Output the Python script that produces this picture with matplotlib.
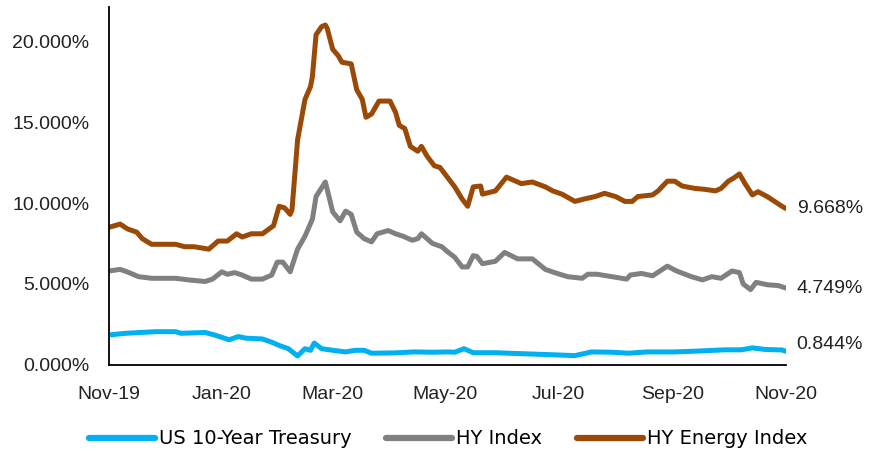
import pandas as pd
import matplotlib
matplotlib.use("Agg")
import matplotlib.pyplot as plt
import matplotlib.dates as mdates
from matplotlib.ticker import FuncFormatter

# values (yield in %)
energy_dates = ["2019-11-01", "2019-11-07", "2019-11-11", "2019-11-16", "2019-11-19", "2019-11-24",
                "2019-12-07", "2019-12-12", "2019-12-17", "2019-12-25", "2019-12-30", "2020-01-04",
                "2020-01-09", "2020-01-12", "2020-01-17", "2020-01-23", "2020-01-29", "2020-02-01",
                "2020-02-04", "2020-02-07", "2020-02-08", "2020-02-11", "2020-02-15", "2020-02-18",
                "2020-02-19", "2020-02-21", "2020-02-24", "2020-02-26", "2020-02-27", "2020-03-01",
                "2020-03-04", "2020-03-06", "2020-03-11", "2020-03-14", "2020-03-17", "2020-03-19",
                "2020-03-22", "2020-03-26", "2020-04-01", "2020-04-04", "2020-04-06", "2020-04-09",
                "2020-04-12", "2020-04-16", "2020-04-18", "2020-04-21", "2020-04-25", "2020-04-28",
                "2020-05-02", "2020-05-06", "2020-05-10", "2020-05-13", "2020-05-16", "2020-05-20",
                "2020-05-21", "2020-05-28", "2020-06-03", "2020-06-11", "2020-06-17", "2020-06-24",
                "2020-06-28", "2020-07-03", "2020-07-10", "2020-07-15", "2020-07-21", "2020-07-26",
                "2020-08-01", "2020-08-06", "2020-08-10", "2020-08-13", "2020-08-21", "2020-08-24",
                "2020-08-29", "2020-09-02", "2020-09-06", "2020-09-13", "2020-09-18", "2020-09-24",
                "2020-09-27", "2020-10-01", "2020-10-04", "2020-10-07", "2020-10-10", "2020-10-14",
                "2020-10-17", "2020-10-22", "2020-10-26", "2020-10-30", "2020-11-01"]
energy = [8.5, 8.7, 8.4, 8.2, 7.8, 7.45,
          7.45, 7.3, 7.3, 7.15, 7.65, 7.65,
          8.1, 7.9, 8.1, 8.1, 8.6, 9.8,
          9.7, 9.3, 9.6, 13.9, 16.4, 17.2,
          17.8, 20.4, 20.9, 21.0, 20.8, 19.5,
          19.1, 18.7, 18.6, 17.0, 16.4, 15.3,
          15.5, 16.3, 16.3, 15.6, 14.8, 14.6,
          13.5, 13.2, 13.5, 12.9, 12.3, 12.2,
          11.6, 11.0, 10.25, 9.8, 11.0, 11.05,
          10.55, 10.75, 11.6, 11.2, 11.3, 11.0,
          10.75, 10.55, 10.1, 10.25, 10.4, 10.6,
          10.4, 10.1, 10.1, 10.4, 10.5, 10.75,
          11.35, 11.35, 11.05, 10.9, 10.85, 10.75,
          10.9, 11.35, 11.55, 11.8, 11.2, 10.5,
          10.7, 10.4, 10.1, 9.8, 9.668]

hy_dates = ["2019-11-01", "2019-11-07", "2019-11-11", "2019-11-17", "2019-11-24", "2019-12-07",
            "2019-12-14", "2019-12-23", "2019-12-27", "2020-01-01", "2020-01-04", "2020-01-08",
            "2020-01-12", "2020-01-17", "2020-01-23", "2020-01-28", "2020-01-31", "2020-02-03",
            "2020-02-07", "2020-02-11", "2020-02-15", "2020-02-19", "2020-02-21", "2020-02-26",
            "2020-02-27", "2020-03-01", "2020-03-05", "2020-03-08", "2020-03-11", "2020-03-14",
            "2020-03-18", "2020-03-22", "2020-03-25", "2020-03-31", "2020-04-04", "2020-04-08",
            "2020-04-13", "2020-04-16", "2020-04-18", "2020-04-24", "2020-04-29", "2020-05-02",
            "2020-05-06", "2020-05-10", "2020-05-13", "2020-05-16", "2020-05-18", "2020-05-21",
            "2020-05-28", "2020-06-02", "2020-06-09", "2020-06-17", "2020-06-24", "2020-06-29",
            "2020-07-06", "2020-07-14", "2020-07-17", "2020-07-22", "2020-07-30", "2020-08-07",
            "2020-08-09", "2020-08-15", "2020-08-21", "2020-08-29", "2020-09-03", "2020-09-11",
            "2020-09-17", "2020-09-22", "2020-09-27", "2020-10-03", "2020-10-07", "2020-10-09",
            "2020-10-13", "2020-10-16", "2020-10-22", "2020-10-28", "2020-11-01"]
hy = [5.8, 5.9, 5.74, 5.45, 5.35, 5.35,
      5.25, 5.15, 5.3, 5.75, 5.6, 5.7,
      5.55, 5.3, 5.3, 5.55, 6.35, 6.35,
      5.75, 7.15, 7.95, 9.0, 10.4, 11.3,
      10.85, 9.45, 8.9, 9.5, 9.3, 8.2,
      7.8, 7.6, 8.1, 8.3, 8.1, 7.95,
      7.7, 7.8, 8.1, 7.5, 7.3, 7.0,
      6.65, 6.05, 6.05, 6.75, 6.7, 6.25,
      6.4, 6.95, 6.55, 6.55, 5.9, 5.7,
      5.45, 5.35, 5.6, 5.6, 5.45, 5.3,
      5.55, 5.65, 5.5, 6.1, 5.8, 5.45,
      5.25, 5.45, 5.35, 5.8, 5.7, 5.0,
      4.65, 5.1, 4.95, 4.9, 4.749]

ust_dates = ["2019-11-01", "2019-11-10", "2019-11-26", "2019-12-07", "2019-12-10", "2019-12-23",
             "2019-12-28", "2020-01-05", "2020-01-10", "2020-01-14", "2020-01-23", "2020-01-28",
             "2020-02-01", "2020-02-06", "2020-02-11", "2020-02-15", "2020-02-18", "2020-02-20",
             "2020-02-24", "2020-03-01", "2020-03-08", "2020-03-13", "2020-03-18", "2020-03-22",
             "2020-04-04", "2020-04-14", "2020-04-24", "2020-05-02", "2020-05-06", "2020-05-11",
             "2020-05-16", "2020-05-28", "2020-06-14", "2020-06-29", "2020-07-10", "2020-07-19",
             "2020-07-30", "2020-08-08", "2020-08-18", "2020-09-02", "2020-09-14", "2020-09-29",
             "2020-10-08", "2020-10-14", "2020-10-21", "2020-10-30", "2020-11-01"]
ust = [1.85, 1.95, 2.05, 2.05, 1.95, 2.0,
       1.85, 1.55, 1.75, 1.65, 1.6, 1.4,
       1.2, 1.0, 0.55, 1.0, 0.9, 1.35,
       1.0, 0.9, 0.8, 0.9, 0.9, 0.72,
       0.74, 0.8, 0.78, 0.8, 0.78, 1.0,
       0.75, 0.75, 0.68, 0.62, 0.57, 0.8,
       0.78, 0.72, 0.8, 0.8, 0.85, 0.93,
       0.93, 1.05, 0.95, 0.92, 0.844]

series = [
    ("US 10-Year Treasury", ust_dates, ust, "#00B0F0", 7),
    ("HY Index", hy_dates, hy, "#808080", 0),
    ("HY Energy Index", energy_dates, energy, "#9A4A06", 0),
]

plt.rcParams["font.family"] = ["Liberation Sans", "DejaVu Sans"]

fig = plt.figure(figsize=(8.72, 4.51), dpi=100)
ax = fig.add_axes([0.125, 0.191, 0.776, 0.793])

for name, d, v, color, dy in series:
    x = pd.to_datetime(d)
    y = [val / 100 for val in v]
    ax.plot(x, y, color=color, lw=3.6, label=name, solid_capstyle="round", solid_joinstyle="round")
    ax.annotate(f"{v[-1]:.3f}%", xy=(x[-1], y[-1]), xytext=(11, dy), textcoords="offset pixels",
                ha="left", va="center", fontsize=14, color="#222222")

ax.set_xlim(pd.Timestamp("2019-11-01"), pd.Timestamp("2020-11-01"))
ax.set_ylim(0, 0.221)
ax.set_yticks([0, 0.05, 0.10, 0.15, 0.20])
ax.yaxis.set_major_formatter(FuncFormatter(lambda v, p: f"{v * 100:.3f}%"))
ax.xaxis.set_major_locator(mdates.MonthLocator(bymonth=[1, 3, 5, 7, 9, 11]))
ax.xaxis.set_major_formatter(mdates.DateFormatter("%b-%y"))
ax.tick_params(axis="both", length=0, labelsize=14, colors="#222222")
ax.tick_params(axis="y", pad=14)
ax.tick_params(axis="x", pad=15)

for s in ["top", "right"]:
    ax.spines[s].set_visible(False)
for s in ["left", "bottom"]:
    ax.spines[s].set_color("black")
    ax.spines[s].set_linewidth(1.3)

fig.legend(loc="center", bbox_to_anchor=(0.514, 0.027), ncol=3, frameon=False,
           prop={"family": ["Liberation Sans Narrow", "DejaVu Sans"], "size": 14},
           handlelength=3.4, handletextpad=0.2, columnspacing=1.8, borderaxespad=0)
for line in fig.legends[0].get_lines():
    line.set_linewidth(4.5)

fig.savefig("out.png", dpi=100)
